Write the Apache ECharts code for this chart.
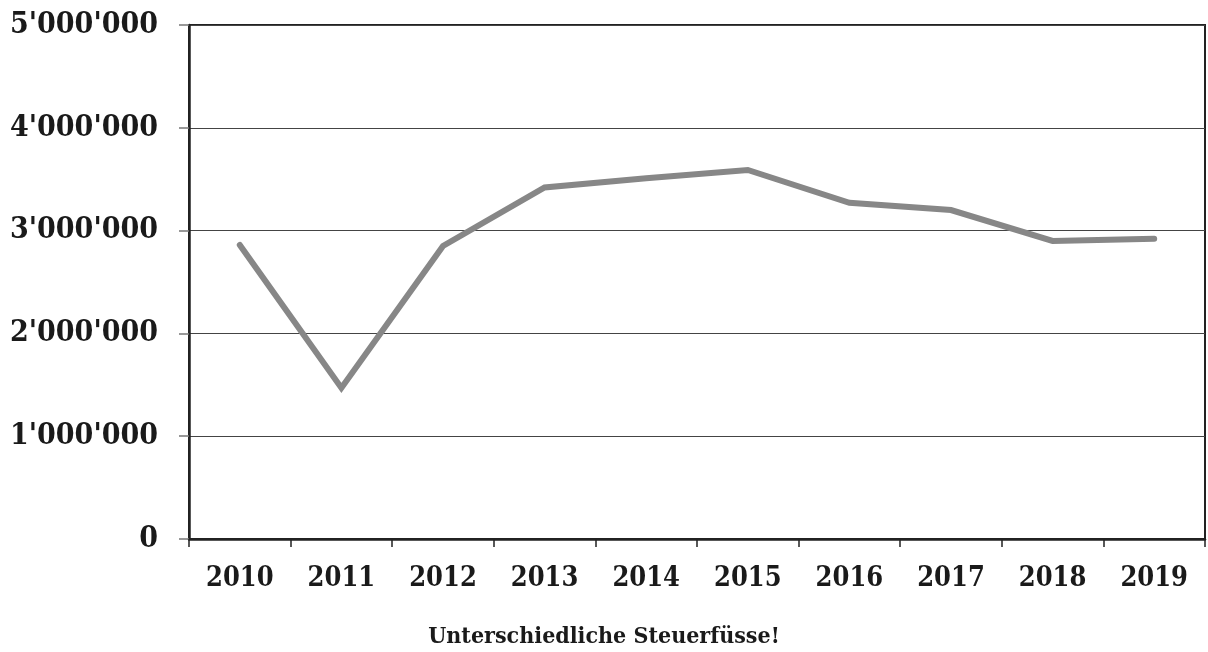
<!DOCTYPE html>
<html>
<head>
<meta charset="utf-8">
<script src="https://cdn.jsdelivr.net/npm/echarts@6/dist/echarts.min.js"></script>
<style>
  html, body { margin: 0; padding: 0; background: #ffffff; }
  #chart { width: 1208px; height: 652px; }
</style>
</head>
<body>
<div id="chart"></div>
<script>
// Jahre und Werte der Reihe
const years = ['2010', '2011', '2012', '2013', '2014', '2015', '2016', '2017', '2018', '2019'];
const values = [2860000, 1470000, 2850000, 3420000, 3510000, 3590000, 3270000, 3200000, 2900000, 2920000];
const axisTitle = 'Unterschiedliche Steuerfüsse!';

const FONT = '"DejaVu Serif Condensed", "DejaVu Serif", serif';

// Tausendertrennzeichen mit Apostroph
function swissFormat(v) {
  return String(Math.round(v)).replace(/\B(?=(\d{3})+(?!\d))/g, "'");
}

const chart = echarts.init(document.getElementById('chart'), null, { renderer: 'canvas' });
chart.setOption({
  animation: false,
  backgroundColor: '#ffffff',
  title: {
    text: axisTitle,
    left: 'center',
    top: 621,
    textStyle: { fontFamily: FONT, fontWeight: 'bold', fontSize: 23, color: '#1a1a1a' }
  },
  grid: {
    left: 189, right: 3, top: 25, bottom: 113,
    outerBoundsMode: 'none',
    containLabel: false,
    show: true, borderColor: '#222222', borderWidth: 2, backgroundColor: 'transparent'
  },
  xAxis: {
    type: 'category',
    data: years,
    boundaryGap: true,
    axisLine: { lineStyle: { color: '#222222', width: 2.5 } },
    axisTick: { show: true, alignWithLabel: false, length: 8, lineStyle: { color: '#222222', width: 1.5 } },
    axisLabel: { fontFamily: FONT, fontWeight: 'bold', fontSize: 27, color: '#1a1a1a', margin: 26 },
    splitLine: { show: false }
  },
  yAxis: {
    type: 'value',
    min: 0, max: 5000000, interval: 1000000,
    axisLine: { show: true, lineStyle: { color: '#222222', width: 2.5 } },
    axisTick: { show: true, length: 10, lineStyle: { color: '#777777', width: 1.5 } },
    axisLabel: {
      fontFamily: FONT, fontWeight: 'bold', fontSize: 30, color: '#1a1a1a', margin: 31,
      formatter: swissFormat
    },
    splitLine: { show: true, lineStyle: { color: '#444444', width: 1 } }
  },
  series: [{
    type: 'line',
    data: values,
    symbol: 'none',
    smooth: false,
    lineStyle: { color: '#878787', width: 6, cap: 'round', join: 'miter' },
    z: 3
  }]
});
</script>
</body>
</html>
